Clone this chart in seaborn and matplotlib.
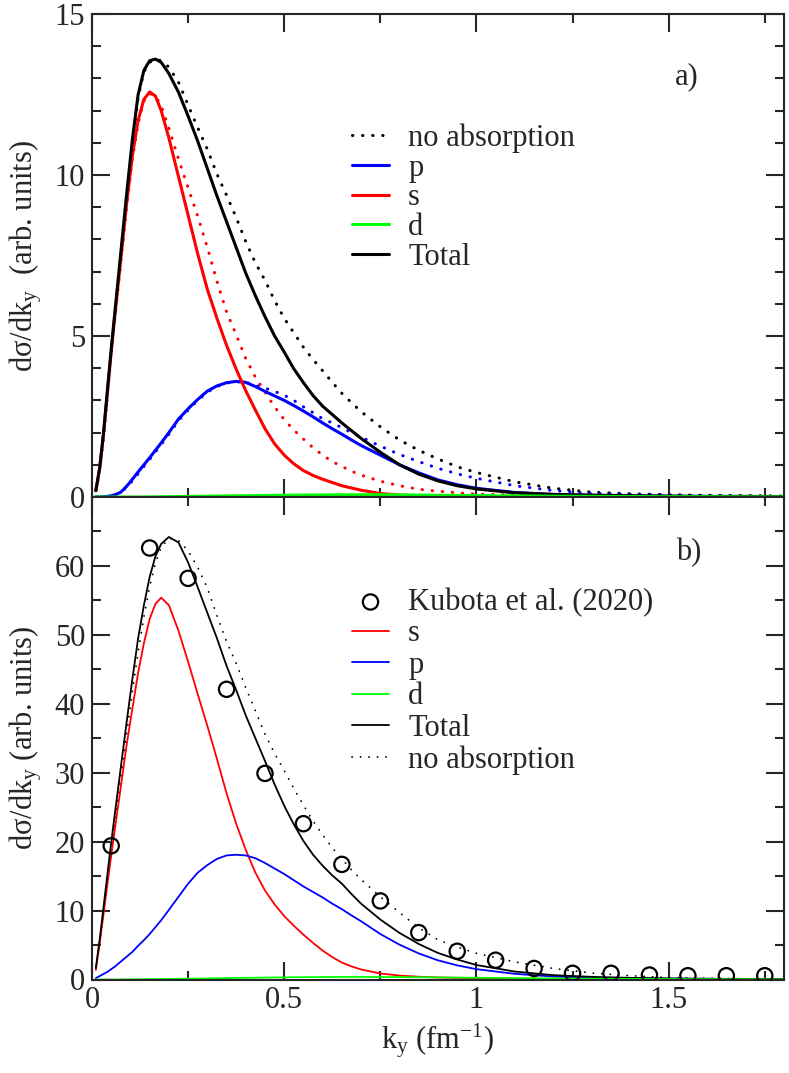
import matplotlib
matplotlib.use("Agg")
import matplotlib.pyplot as plt
import seaborn as sns
from matplotlib.ticker import MultipleLocator, FixedLocator, FuncFormatter

sns.set_style("ticks")
plt.rcParams['font.family'] = ['Liberation Serif', 'DejaVu Serif']
plt.rcParams['mathtext.fontset'] = 'custom'
plt.rcParams['mathtext.rm'] = 'Liberation Serif'
plt.rcParams['mathtext.it'] = 'Liberation Serif:italic'
plt.rcParams['mathtext.bf'] = 'Liberation Serif:bold'

# ---------------- data ----------------
k = [0.01, 0.02, 0.03, 0.04, 0.05, 0.06, 0.075, 0.09, 0.105, 0.12, 0.135, 0.15, 0.165, 0.18,
     0.2, 0.225, 0.25, 0.275, 0.3, 0.325, 0.35, 0.375, 0.4, 0.425, 0.45,
     0.475, 0.5, 0.525, 0.55, 0.575, 0.6, 0.625, 0.65, 0.675, 0.7,
     0.75, 0.8, 0.85, 0.9, 0.95, 1.0,
     1.1, 1.2, 1.3, 1.4, 1.5, 1.6, 1.7, 1.8]

# panel a)
a_total = [0.2, 0.9, 2.0, 3.3, 4.6, 5.8, 7.6, 9.4, 11.1, 12.5, 13.25, 13.55, 13.6, 13.5,
           13.15, 12.57, 11.83, 11.05, 10.2, 9.35, 8.55, 7.75, 6.95, 6.25, 5.6,
           5.0, 4.5, 3.98, 3.55, 3.15, 2.82, 2.56, 2.3, 2.06, 1.82,
           1.39, 1.0, 0.71, 0.5, 0.35, 0.25,
           0.13, 0.08, 0.06, 0.04, 0.03, 0.02, 0.02, 0.01]
a_total_noabs = [0.2, 0.85, 1.9, 3.2, 4.5, 5.7, 7.5, 9.3, 11.0, 12.4, 13.2, 13.5, 13.6, 13.55,
                 13.35, 12.88, 12.17, 11.47, 10.8, 10.03, 9.37, 8.68, 7.93, 7.27, 6.73,
                 6.1, 5.55, 5.1, 4.65, 4.27, 3.92, 3.56, 3.22, 2.93, 2.65,
                 2.18, 1.77, 1.45, 1.18, 0.94, 0.76,
                 0.47, 0.27, 0.15, 0.1, 0.07, 0.05, 0.04, 0.03]
a_s = [0.2, 0.9, 1.95, 3.25, 4.5, 5.7, 7.4, 9.1, 10.6, 11.7, 12.35, 12.58, 12.45, 12.0,
       11.15, 9.95, 8.75, 7.55, 6.45, 5.55, 4.71, 3.97, 3.3, 2.7, 2.12,
       1.65, 1.3, 1.03, 0.82, 0.67, 0.55, 0.45, 0.35, 0.28, 0.21,
       0.11, 0.06, 0.04, 0.03, 0.02, 0.02,
       0.01, 0.01, 0.0, 0.0, 0.0, 0.0, 0.0, 0.0]
a_s_noabs = [0.2, 0.85, 1.9, 3.2, 4.45, 5.6, 7.3, 9.0, 10.5, 11.6, 12.3, 12.53, 12.45, 12.15,
             11.45, 10.5, 9.6, 8.72, 7.75, 6.7, 5.75, 5.04, 4.3, 3.72, 3.26,
             2.8, 2.4, 2.08, 1.8, 1.53, 1.3, 1.1, 0.95, 0.8, 0.68,
             0.49, 0.35, 0.24, 0.18, 0.13, 0.09,
             0.06, 0.04, 0.03, 0.02, 0.01, 0.01, 0.01, 0.0]
a_p = [0.0, 0.0, 0.01, 0.02, 0.04, 0.07, 0.15, 0.33, 0.55, 0.78, 1.0, 1.22, 1.45, 1.68,
       2.0, 2.42, 2.74, 3.03, 3.29, 3.45, 3.55, 3.59, 3.56, 3.43, 3.28,
       3.14, 3.0, 2.84, 2.67, 2.49, 2.3, 2.12, 1.95, 1.77, 1.6,
       1.3, 1.0, 0.75, 0.53, 0.38, 0.27,
       0.14, 0.08, 0.05, 0.03, 0.02, 0.01, 0.01, 0.01]
a_p_noabs = [0.0, 0.0, 0.01, 0.02, 0.04, 0.07, 0.14, 0.3, 0.5, 0.72, 0.95, 1.17, 1.4, 1.63,
             1.95, 2.37, 2.7, 3.0, 3.25, 3.43, 3.54, 3.58, 3.56, 3.47, 3.38,
             3.28, 3.16, 3.0, 2.8, 2.62, 2.43, 2.3, 2.15, 2.0, 1.86,
             1.58, 1.32, 1.1, 0.89, 0.72, 0.58,
             0.35, 0.2, 0.11, 0.08, 0.06, 0.04, 0.03, 0.02]
a_d = [0, 0, 0, 0, 0, 0, 0, 0, 0, 0, 0, 0.005, 0.005, 0.01,
       0.01, 0.015, 0.02, 0.02, 0.025, 0.03, 0.035, 0.04, 0.04, 0.045, 0.05,
       0.052, 0.055, 0.057, 0.06, 0.062, 0.065, 0.068, 0.07, 0.07, 0.07,
       0.07, 0.065, 0.06, 0.055, 0.05, 0.045,
       0.035, 0.025, 0.02, 0.015, 0.01, 0.01, 0.005, 0.005]

# panel b)
b_total = [1.7, 5.8, 10.5, 15.2, 19.9, 24.3, 30.8, 37.3, 43.6, 49.5, 54.3, 58.4, 61.4, 63.2,
           64.2, 63.4, 60.5, 56.9, 53.2, 49.5, 45.5, 42.0, 38.3, 35.0, 31.7,
           28.3, 25.2, 22.5, 20.1, 18.1, 16.5, 15.1, 13.9, 12.4, 11.0,
           8.7, 6.75, 5.15, 3.85, 2.9, 2.1,
           1.15, 0.63, 0.38, 0.24, 0.16, 0.11, 0.08, 0.07]
b_total_noabs = [1.5, 5.4, 9.8, 14.3, 18.8, 23.0, 29.3, 35.5, 41.8, 47.5, 52.6, 57.0, 60.4, 62.7,
                 64.0, 63.7, 62.2, 59.8, 56.8, 52.8, 49.0, 45.9, 42.3, 39.0, 35.6,
                 32.8, 30.3, 27.7, 25.3, 23.0, 21.0, 19.1, 17.5, 15.9, 14.5,
                 12.0, 9.7, 7.5, 5.75, 4.7, 3.8,
                 2.55, 1.6, 0.94, 0.55, 0.28, 0.18, 0.12, 0.09]
b_s = [1.4, 5.3, 9.5, 13.8, 18.0, 22.0, 28.0, 34.0, 39.3, 44.5, 48.8, 52.3, 54.5, 55.4,
       54.3, 50.6, 46.1, 41.4, 36.8, 32.0, 27.0, 22.6, 18.8, 15.5, 12.9,
       10.9, 9.2, 7.8, 6.5, 5.3, 4.2, 3.25, 2.45, 1.9, 1.45,
       0.87, 0.57, 0.4, 0.3, 0.24, 0.2,
       0.13, 0.08, 0.05, 0.03, 0.02, 0.02, 0.01, 0.01]
b_p = [0.2, 0.5, 0.8, 1.1, 1.5, 1.9, 2.6, 3.3, 4.0, 4.9, 5.7, 6.6, 7.6, 8.6,
       10.1, 12.0, 13.9, 15.5, 16.6, 17.5, 18.0, 18.1, 18.0, 17.6, 16.9,
       16.1, 15.3, 14.4, 13.5, 12.7, 11.9, 11.0, 10.2, 9.3, 8.45,
       6.6, 5.05, 3.78, 2.78, 2.05, 1.5,
       0.82, 0.43, 0.24, 0.16, 0.12, 0.09, 0.07, 0.06]
b_d = [0, 0, 0, 0, 0, 0, 0.01, 0.01, 0.02, 0.03, 0.04, 0.05, 0.06, 0.07,
       0.08, 0.1, 0.12, 0.14, 0.16, 0.18, 0.2, 0.22, 0.24, 0.26, 0.28,
       0.3, 0.31, 0.33, 0.34, 0.35, 0.36, 0.365, 0.37, 0.37, 0.37,
       0.36, 0.35, 0.33, 0.3, 0.28, 0.25,
       0.2, 0.16, 0.12, 0.09, 0.07, 0.05, 0.04, 0.03]

kubota_k = [0.05, 0.15, 0.25, 0.35, 0.45, 0.55, 0.65, 0.75, 0.85, 0.95,
            1.05, 1.15, 1.25, 1.35, 1.45, 1.55, 1.65, 1.75]
kubota_v = [19.4, 62.6, 58.2, 42.1, 29.9, 22.6, 16.7, 11.4, 6.8, 4.1,
            2.8, 1.6, 0.9, 0.9, 0.65, 0.55, 0.55, 0.55]

x_ticks = [0, 0.5, 1, 1.5]
x_ticklabels = ['0', '0.5', '1', '1.5']
a_yticks = [0, 5, 10, 15]
b_yticks = [0, 10, 20, 30, 40, 50, 60]
b_yminor = [5, 15, 25, 35, 45, 55, 65]

labels_a = ['no absorption', 'p', 's', 'd', 'Total']
labels_b = ['Kubota et al. (2020)', 's', 'p', 'd', 'Total', 'no absorption']

RED, BLUE, GREEN, BLACK = '#ff0000', '#0000ff', '#00ff00', '#000000'
FS = 22

# ---------------- figure ----------------
fig = plt.figure(figsize=(7.89, 10.73), dpi=100)
L, R = 92 / 789, 784 / 789
ax_a = fig.add_axes([L, 1 - 497 / 1073, R - L, (497 - 14) / 1073])
ax_b = fig.add_axes([L, 1 - 979.5 / 1073, R - L, (979.5 - 497) / 1073])


def draw(ax, y, color, lw, dotted=False, gap=3.2, z=2):
    sns.lineplot(x=k, y=y, ax=ax, color=color, linewidth=lw, zorder=z)
    line = ax.lines[-1]
    line.set_solid_joinstyle('round')
    if dotted:
        line.set_linestyle((0, (0.1, gap)))
        line.set_dash_capstyle('round')
    return line


# panel a
LWA = 2.2
la_tn = draw(ax_a, a_total_noabs, BLACK, LWA, dotted=True, z=2)
draw(ax_a, a_s_noabs, RED, LWA, dotted=True, z=2)
draw(ax_a, a_p_noabs, BLUE, LWA, dotted=True, z=2)
la_p = draw(ax_a, a_p, BLUE, LWA, z=2.1)
la_s = draw(ax_a, a_s, RED, LWA, z=2.1)
la_t = draw(ax_a, a_total, BLACK, LWA, z=2.2)
la_d = draw(ax_a, a_d, GREEN, LWA, z=2.3)

# panel b
LWB = 1.3
lb_tn = draw(ax_b, b_total_noabs, BLACK, LWB, dotted=True, gap=4.6, z=2)
lb_s = draw(ax_b, b_s, RED, LWB, z=2.1)
lb_p = draw(ax_b, b_p, BLUE, LWB, z=2.1)
lb_t = draw(ax_b, b_total, BLACK, LWB, z=2.2)
lb_d = draw(ax_b, b_d, GREEN, LWB, z=2.3)
sns.scatterplot(x=kubota_k, y=kubota_v, ax=ax_b, marker='o', s=121, color=BLACK,
                facecolor='none', edgecolor=BLACK, linewidth=1.6, zorder=5)
sc = ax_b.collections[-1]

fmt = FuncFormatter(lambda v, p: '%g' % v)
for ax in (ax_a, ax_b):
    ax.set_xlim(0, 1.8)
    ax.xaxis.set_major_locator(FixedLocator(x_ticks))
    ax.xaxis.set_minor_locator(MultipleLocator(0.25))
    ax.tick_params(which='both', direction='in', top=True, right=True,
                   labelsize=FS, width=1.5, pad=5)
    ax.tick_params(which='major', length=13)
    ax.tick_params(which='minor', length=6.5)
    for sp in ax.spines.values():
        sp.set_linewidth(1.5)
    ax.yaxis.set_major_formatter(fmt)
    ax.set_xlabel('')
    ax.set_ylabel('')

ax_a.set_ylim(0, 15)
ax_a.yaxis.set_major_locator(FixedLocator(a_yticks))
ax_a.yaxis.set_minor_locator(MultipleLocator(1))
ax_a.tick_params(labelbottom=False)

ax_b.set_ylim(0, 70)
ax_b.yaxis.set_major_locator(FixedLocator(b_yticks))
ax_b.yaxis.set_minor_locator(FixedLocator(b_yminor))
ax_b.set_xticklabels(x_ticklabels)

ax_a.set_ylabel('dσ/dk$_\\mathregular{y}$  (arb. units)', fontsize=FS)
ax_a.yaxis.set_label_coords(-0.069, 0.5)
ax_b.set_ylabel('dσ/dk$_\\mathregular{y}$ (arb. units)', fontsize=FS)
ax_b.yaxis.set_label_coords(-0.069, 0.5)
ax_b.set_xlabel('k$_\\mathregular{y}$ (fm$^\\mathregular{-1}$)', fontsize=FS)
ax_b.xaxis.set_label_coords(0.5, -0.086)

ax_a.text(0.859, 0.871, 'a)', transform=ax_a.transAxes, fontsize=FS, ha='center', va='center')
ax_b.text(0.863, 0.885, 'b)', transform=ax_b.transAxes, fontsize=FS, ha='center', va='center')

ax_a.legend([la_tn, la_p, la_s, la_d, la_t], labels_a, loc='upper left',
            bbox_to_anchor=(0.3753, 0.773), frameon=False, fontsize=FS,
            handlelength=1.23, handletextpad=0.62, labelspacing=0.02,
            borderpad=0, borderaxespad=0)
ax_b.legend([sc, lb_s, lb_p, lb_d, lb_t, lb_tn], labels_b, loc='upper left',
            bbox_to_anchor=(0.3753, 0.812), frameon=False, fontsize=FS,
            handlelength=1.23, handletextpad=0.62, labelspacing=0.08,
            borderpad=0, borderaxespad=0, scatterpoints=1)

fig.savefig('out.png', dpi=100)
